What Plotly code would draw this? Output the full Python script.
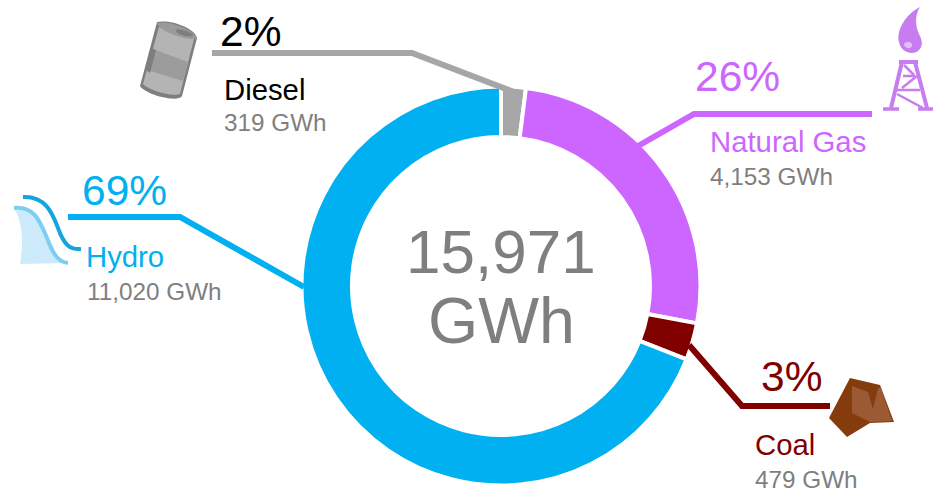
import plotly.graph_objects as go

sources = ["Diesel", "Natural Gas", "Coal", "Hydro"]
gwh = [319, 4153, 479, 11020]
colors = ["#A6A6A6", "#CC66FF", "#800000", "#00B0F0"]
percents = ["2%", "26%", "3%", "69%"]
gwh_labels = ["319 GWh", "4,153 GWh", "479 GWh", "11,020 GWh"]
total_label = ["15,971", "GWh"]

W, H = 935, 491
cx, cy, R = 501, 286, 199.5

fig = go.Figure()
fig.add_trace(go.Pie(
    labels=sources, values=gwh, sort=False, direction="clockwise", rotation=0,
    hole=0.747, textinfo="none", hoverinfo="label+value",
    marker=dict(colors=colors, line=dict(color="white", width=4)),
    domain=dict(x=[(cx - R) / W, (cx + R) / W], y=[(H - cy - R) / H, (H - cy + R) / H]),
    showlegend=False,
))
# invisible anchor so the pixel-scaled axes exist for the callouts
fig.add_trace(go.Scatter(x=[0, W], y=[0, H], mode="lines", opacity=0,
                         hoverinfo="skip", showlegend=False))

leaders = {
    "Diesel": ([212, 412, 514], [53, 53, 92]),
    "Natural Gas": ([872, 694, 638], [114, 114, 146]),
    "Coal": ([830, 742, 689], [406, 406, 345]),
    "Hydro": ([68, 180, 304], [217, 217, 287]),
}

FONT = "Liberation Sans, Arial, sans-serif"
GREY = "#7F7F7F"
def txt(x, y, s, size, color, anchor="left", height=None):
    fig.add_annotation(x=x, y=y, xref="x", yref="y", text=s, showarrow=False, xanchor=anchor,
                       yanchor="middle", borderpad=0, borderwidth=0, height=height,
                       font=dict(family=FONT, size=size, color=color))

def shape(path, fill=None, line=None, lw=0):
    fig.add_shape(type="path", path=path, xref="x", yref="y", layer="above",
                  fillcolor=fill if fill else "rgba(0,0,0,0)",
                  line=dict(color=line if line else "rgba(0,0,0,0)", width=lw))

for s, c in zip(sources, colors):
    xs, ys = leaders[s]
    shape("M" + " L".join(f"{a} {b}" for a, b in zip(xs, ys)), None, c, 6)

pos = {
    "Diesel": ((220, 31), (224, 89), (224, 122), "#000000", "#000000"),
    "Natural Gas": ((695, 76), (710, 141), (710, 176), "#CC66FF", "#CC66FF"),
    "Coal": ((761, 376), (755, 444), (755, 479), "#800000", "#800000"),
    "Hydro": ((82, 190), (86, 256), (87, 291), "#00B0F0", "#00B0F0"),
}
for s, p, g in zip(sources, percents, gwh_labels):
    a, b, c, col1, col2 = pos[s]
    txt(a[0], a[1], p, 42.5, col1)
    txt(b[0], b[1], s, 29.3, col2)
    txt(c[0], c[1], g, 24.3, GREY, height=24)
txt(cx, 251, total_label[0], 62, GREY, "center")
txt(cx, 321, total_label[1], 64.5, GREY, "center")

# Barrel icon
shape("M157 22 C170 19 195 28 197 38 L182 96 C178 103 146 95 140 86 Z", "#7E7E7E")
shape("M159 27 L194 39 L180 94 C172 97 148 90 143 84 Z", "#B4B4B4")
shape("M153 49 L188 62 L183 81 L147 70 Z", "#9C9C9C")
shape("M151 48 L156 50 L150 73 L146 70 Z", "#7E7E7E")
shape("M157 23 C168 20 193 29 197 38 C192 42 160 33 157 23 Z", "#9A9A9A")
shape("M176 30 C182 28 195 34 193 36 C188 38 175 34 176 30 Z", "#7E7E7E")

# Gas derrick icon
P = "#C77DF0"
shape("M920 7 C906 14 896 30 899 42 C901 53 913 55 918 51 C924 46 922 40 919 34 C915 25 915 15 920 7 Z", P)
shape("M904 44 C907 40 913 42 912 46 C910 50 904 48 904 44 Z", "#E3BDF8")
shape("M899 60 L918 60 L918 64 L899 64 Z", P)
shape("M902 62 L891 108", None, P, 4)
shape("M915 62 L927 108", None, P, 4)
shape("M883 109 L899 109 M918 109 L933 109", None, P, 3.5)
shape("M904 65 L914 75 M903 76 L915 76 M902 88 L917 76 M897 94 L923 108 M897 90 L920 90", None, P, 2.5)

# Hydro dam icon
shape("M14 208 C30 206 38 215 44 235 C50 250 58 262 68 263 L20 264 C24 240 22 222 14 208 Z", "#CDEBFA")
shape("M14 208 C35 206 40 222 47 238 C53 254 58 262 68 263", None, "#7FCDF3", 4)
shape("M23 197 C45 196 52 212 58 228 C64 245 70 250 81 249", None, "#12A5DF", 4)

# Coal icon
shape("M850 378 L880 385 L894 422 L870 423 L847 437 L829 418 Z", "#843C0C")
shape("M852 386 L868 392 L873 409 L878 388 L881 388 L892 421 L870 422 L852 413 Z", "#9C5A34")

fig.update_layout(
    width=W, height=H, margin=dict(l=0, r=0, t=0, b=0, pad=0),
    paper_bgcolor="white", plot_bgcolor="rgba(0,0,0,0)", showlegend=False,
    xaxis=dict(range=[0, W], visible=False, fixedrange=True, domain=[0, 1]),
    yaxis=dict(range=[H, 0], visible=False, fixedrange=True, domain=[0, 1]),
)
fig.write_html("out.html", config=dict(displayModeBar=False),
               post_script="document.body.style.margin='0';document.body.style.overflow='hidden';")
